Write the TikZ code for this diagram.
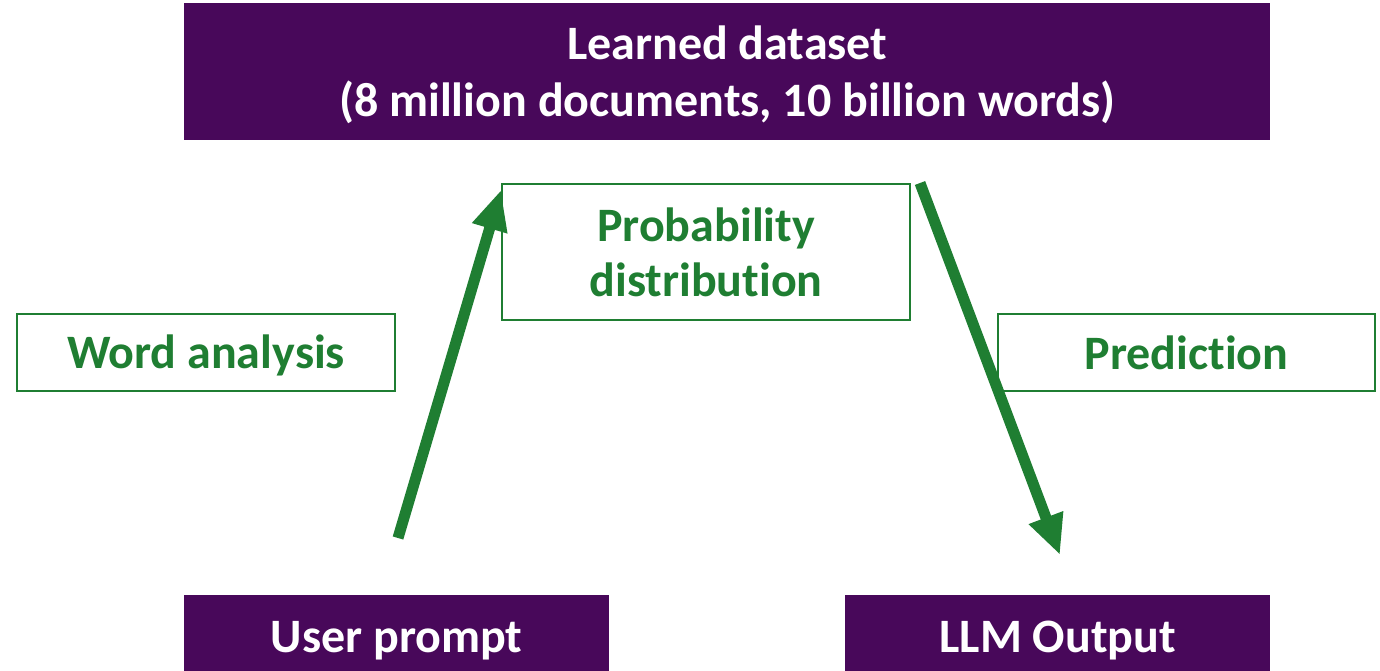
\documentclass[tikz,border=0pt]{standalone}
\usepackage{fontspec}
\setmainfont{Carlito}[Ligatures=NoCommon]
\usetikzlibrary{arrows.meta}
\definecolor{dpurple}{RGB}{72,8,90}
\definecolor{dgreen}{RGB}{31,126,50}
\newcommand\mystrut{\rule[-7pt]{0pt}{47pt}}
\begin{document}
\begin{tikzpicture}[x=1pt,y=-1pt,
  pbox/.style={fill=dpurple, text=white, font=\bfseries\fontsize{48}{57}\selectfont,
    align=center, inner sep=0pt, anchor=north west},
  gbox/.style={draw=dgreen, line width=2pt, text=dgreen, fill=white,
    font=\bfseries\fontsize{48}{55}\selectfont, align=center, inner sep=0pt, anchor=north west},
  bigarrow/.style={draw=dgreen, line width=11pt, -{Triangle[length=40pt,width=34pt]}}]
\useasboundingbox (0,0) rectangle (1380,671);
\node[pbox, minimum width=1086pt, minimum height=137pt] (data) at (184,3)
  {\mystrut Learned dataset\\(8 million documents, 10 billion words)\mystrut};
\node[gbox, minimum width=408pt, minimum height=136pt] (prob) at (501,183)
  {\mystrut Probability\\distribution\mystrut};
\node[gbox, minimum width=378pt, minimum height=77pt] (word) at (16,313) {\mystrut Word analysis};
\node[gbox, minimum width=377pt, minimum height=77pt] (pred) at (997,313) {\mystrut Prediction};
\node[pbox, minimum width=425pt, minimum height=82pt] (user) at (184,595) {\mystrut User prompt};
\node[pbox, minimum width=425pt, minimum height=82pt] (llm) at (845,595) {\mystrut LLM Output};
\coordinate (a1s) at (398,538);
\coordinate (a1e) at (501,190);
\coordinate (a2s) at (920,183);
\coordinate (a2e) at (1060,555);
\draw[bigarrow] (a1s) -- (a1e);
\draw[bigarrow] (a2s) -- (a2e);
\end{tikzpicture}
\end{document}
